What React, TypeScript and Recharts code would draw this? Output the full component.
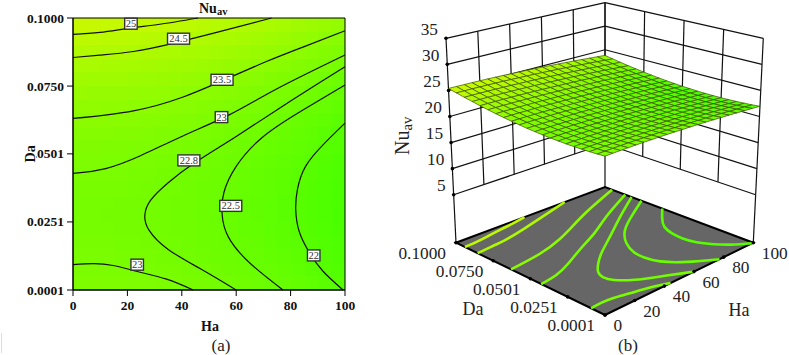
import { ComposedChart, Line, Scatter, XAxis, YAxis, ReferenceArea } from "recharts";

const SERIF = "'Liberation Serif', serif";

const HA_TICKS = [0, 20, 40, 60, 80, 100];
const DA_TICKS = [0.0001, 0.0251, 0.0501, 0.075, 0.1];
const NU_TICKS = [5, 10, 15, 20, 25, 30, 35];

// surface grid (a)
const HA_GRID = [0, 5, 10, 15, 20, 25, 30, 35, 40, 45, 50, 55, 60, 65, 70, 75, 80, 85, 90, 95, 100];
const DA_GRID = [
  0.0001, 0.0051, 0.0101, 0.0151, 0.0201, 0.0251, 0.0301, 0.0351, 0.0401, 0.0451, 0.0501,
  0.055, 0.06, 0.065, 0.07, 0.075, 0.08, 0.085, 0.09, 0.095, 0.1,
];
const NU_GRID = [
  [23.18, 23.19, 23.19, 23.18, 23.17, 23.15, 23.12, 23.08, 23.04, 22.99, 22.93, 22.87, 22.8, 22.72, 22.63, 22.54, 22.44, 22.33, 22.21, 22.09, 21.96],
  [23.07, 23.08, 23.08, 23.07, 23.06, 23.03, 23.0, 22.96, 22.92, 22.87, 22.81, 22.75, 22.67, 22.6, 22.51, 22.42, 22.32, 22.2, 22.08, 21.96, 21.83],
  [22.99, 23.0, 23.0, 22.98, 22.97, 22.95, 22.92, 22.88, 22.84, 22.78, 22.72, 22.66, 22.58, 22.51, 22.41, 22.32, 22.22, 22.11, 21.99, 21.87, 21.73],
  [22.93, 22.94, 22.93, 22.92, 22.91, 22.89, 22.85, 22.81, 22.77, 22.72, 22.65, 22.59, 22.51, 22.43, 22.34, 22.25, 22.15, 22.03, 21.91, 21.79, 21.66],
  [22.89, 22.9, 22.89, 22.88, 22.87, 22.84, 22.81, 22.76, 22.72, 22.67, 22.6, 22.54, 22.46, 22.38, 22.29, 22.2, 22.09, 21.98, 21.85, 21.73, 21.6],
  [22.87, 22.88, 22.87, 22.86, 22.84, 22.82, 22.78, 22.74, 22.69, 22.64, 22.57, 22.51, 22.43, 22.35, 22.26, 22.16, 22.06, 21.94, 21.82, 21.69, 21.56],
  [22.88, 22.88, 22.88, 22.86, 22.85, 22.82, 22.79, 22.74, 22.7, 22.64, 22.58, 22.51, 22.43, 22.35, 22.25, 22.16, 22.05, 21.94, 21.81, 21.69, 21.55],
  [22.91, 22.91, 22.91, 22.89, 22.87, 22.85, 22.81, 22.77, 22.72, 22.66, 22.6, 22.53, 22.45, 22.37, 22.27, 22.17, 22.07, 21.95, 21.82, 21.7, 21.56],
  [22.96, 22.96, 22.96, 22.94, 22.92, 22.89, 22.86, 22.81, 22.76, 22.7, 22.64, 22.57, 22.49, 22.41, 22.31, 22.21, 22.1, 21.99, 21.86, 21.73, 21.59],
  [23.04, 23.04, 23.03, 23.02, 23.0, 22.97, 22.93, 22.88, 22.83, 22.78, 22.71, 22.64, 22.56, 22.47, 22.37, 22.28, 22.17, 22.05, 21.92, 21.79, 21.66],
  [23.13, 23.13, 23.12, 23.1, 23.08, 23.05, 23.02, 22.97, 22.92, 22.86, 22.79, 22.72, 22.64, 22.55, 22.45, 22.35, 22.24, 22.12, 22.0, 21.87, 21.73],
  [23.26, 23.26, 23.25, 23.23, 23.21, 23.18, 23.14, 23.09, 23.04, 22.98, 22.91, 22.84, 22.75, 22.67, 22.57, 22.47, 22.36, 22.24, 22.11, 21.98, 21.84],
  [23.4, 23.4, 23.39, 23.37, 23.35, 23.31, 23.27, 23.22, 23.17, 23.11, 23.04, 22.97, 22.88, 22.8, 22.7, 22.59, 22.48, 22.36, 22.23, 22.1, 21.96],
  [23.57, 23.57, 23.56, 23.53, 23.51, 23.48, 23.44, 23.39, 23.33, 23.27, 23.2, 23.13, 23.04, 22.96, 22.85, 22.75, 22.64, 22.52, 22.39, 22.25, 22.11],
  [23.76, 23.76, 23.74, 23.72, 23.7, 23.67, 23.62, 23.57, 23.52, 23.45, 23.38, 23.31, 23.22, 23.13, 23.03, 22.93, 22.81, 22.69, 22.56, 22.43, 22.28],
  [23.97, 23.97, 23.95, 23.93, 23.91, 23.87, 23.83, 23.77, 23.72, 23.66, 23.58, 23.51, 23.42, 23.33, 23.23, 23.12, 23.01, 22.89, 22.75, 22.62, 22.48],
  [24.21, 24.21, 24.19, 24.17, 24.14, 24.11, 24.06, 24.01, 23.95, 23.89, 23.81, 23.74, 23.65, 23.56, 23.45, 23.35, 23.24, 23.11, 22.98, 22.84, 22.7],
  [24.47, 24.46, 24.45, 24.42, 24.4, 24.36, 24.32, 24.26, 24.21, 24.14, 24.06, 23.99, 23.9, 23.81, 23.7, 23.6, 23.48, 23.36, 23.22, 23.08, 22.94],
  [24.75, 24.74, 24.73, 24.7, 24.67, 24.64, 24.59, 24.53, 24.48, 24.41, 24.34, 24.26, 24.17, 24.08, 23.97, 23.86, 23.75, 23.62, 23.48, 23.35, 23.2],
  [25.06, 25.05, 25.04, 25.01, 24.98, 24.94, 24.9, 24.84, 24.78, 24.71, 24.64, 24.56, 24.47, 24.37, 24.27, 24.16, 24.04, 23.91, 23.78, 23.64, 23.49],
  [25.38, 25.37, 25.35, 25.33, 25.3, 25.26, 25.21, 25.15, 25.09, 25.03, 24.95, 24.87, 24.78, 24.68, 24.57, 24.47, 24.35, 24.22, 24.08, 23.94, 23.79],
];

// contour lines as [Ha, Da]
const C25 = [[0, 0.094], [9.9, 0.0947], [20.9, 0.0963], [31.9, 0.0977], [46, 0.1]];
const C245 = [[0, 0.0855], [9.9, 0.0864], [22.2, 0.0877], [36.8, 0.0907], [52.8, 0.0947], [73, 0.1]];
const C235 = [[0, 0.0631], [22.2, 0.0659], [40.5, 0.071], [55, 0.077], [71.1, 0.084], [85, 0.0895], [100, 0.0953]];
const C23_TOP = [[0, 0.0429], [12, 0.0447], [25, 0.0495], [40, 0.0565], [57.6, 0.0645], [75, 0.074], [100, 0.0864]];
const C228 = [[100, 0.0821], [80, 0.0695], [60, 0.0565], [45, 0.047], [35, 0.0395], [28.5, 0.033], [26.4, 0.0275], [28, 0.022], [35, 0.015], [47, 0.0078], [60, 0.0001]];
const C225 = [[100, 0.0754], [85, 0.0665], [70, 0.0565], [60, 0.0455], [55.5, 0.036], [54.8, 0.0283], [57, 0.0198], [65, 0.01], [77.2, 0.0001]];
const C22 = [[100, 0.0614], [92, 0.0535], [85.5, 0.0455], [82.5, 0.037], [81.9, 0.0296], [83.2, 0.0215], [87, 0.0137], [92, 0.0069], [99.3, 0.0001]];
const C23_LOW = [[0, 0.0094], [7.5, 0.0098], [14.8, 0.0091], [23.6, 0.0069], [34.4, 0.0041], [44.2, 0.0001]];

const CONTOURS = [
  { level: 25, pts: C25 },
  { level: 24.5, pts: C245 },
  { level: 23.5, pts: C235 },
  { level: 23, pts: C23_TOP },
  { level: 22.8, pts: C228 },
  { level: 22.5, pts: C225 },
  { level: 22, pts: C22 },
  { level: 23, pts: C23_LOW },
];

const LABEL_TEXT = ["25", "24.5", "23.5", "23", "22.8", "22.5", "22", "23"];
const LABEL_HA = [21.3, 38.8, 54.8, 54.6, 42.6, 58, 88.5, 23.6];
const LABEL_DA = [0.0979, 0.0924, 0.0773, 0.0636, 0.0477, 0.031, 0.0128, 0.0094];

const nuColor = (nu: number) => {
  const t = (nu - 21.55) / 3.83;
  return `rgb(${Math.round(72 + t * 132)},${Math.round(255 - t * 6)},0)`;
};

// box of the 3D view: [x, y] of the corners on the page, floor at z=-4.2, lid at z=35
const FLOOR = { front: [605, 315], left: [456, 242.7], right: [753.3, 242.7], back: [605, 187] };
const LID = { front: [605, 87.6], left: [446, 38.3], right: [763.3, 38.3], back: [605, 2.7] };
const Z_FLOOR = -4.2;
const Z_LID = 35;

const bilinear = (q: any, a: number, d: number, i: number) =>
  q.front[i] * (1 - a) * (1 - d) + q.left[i] * (1 - a) * d + q.right[i] * a * (1 - d) + q.back[i] * a * d;

const project = (ha: number, da: number, nu: number) => {
  const a = ha / 100;
  const d = (da - 0.0001) / 0.0999;
  const t = (nu - Z_FLOOR) / (Z_LID - Z_FLOOR);
  return {
    x: bilinear(FLOOR, a, d, 0) + (bilinear(LID, a, d, 0) - bilinear(FLOOR, a, d, 0)) * t,
    y: bilinear(FLOOR, a, d, 1) + (bilinear(LID, a, d, 1) - bilinear(FLOOR, a, d, 1)) * t,
  };
};

// left panel data
const contourData = CONTOURS.map((c) => c.pts.map(([x, y]) => ({ x, y })));
const labelData = LABEL_TEXT.map((text, i) => ({ x: LABEL_HA[i], y: LABEL_DA[i], text }));

const heatCells: any[] = [];
const surfaceCells: any[] = [];
for (let j = DA_GRID.length - 2; j >= 0; j--) {
  for (let i = HA_GRID.length - 2; i >= 0; i--) {
    const nu = (NU_GRID[j][i] + NU_GRID[j][i + 1] + NU_GRID[j + 1][i] + NU_GRID[j + 1][i + 1]) / 4;
    const ha = (HA_GRID[i] + HA_GRID[i + 1]) / 2;
    const da = (DA_GRID[j] + DA_GRID[j + 1]) / 2;
    heatCells.push({ x: ha, y: da, fill: nuColor(nu) });
    surfaceCells.push({
      ...project(ha, da, nu),
      fill: nuColor(nu),
      poly: [
        project(HA_GRID[i], DA_GRID[j], NU_GRID[j][i]),
        project(HA_GRID[i + 1], DA_GRID[j], NU_GRID[j][i + 1]),
        project(HA_GRID[i + 1], DA_GRID[j + 1], NU_GRID[j + 1][i + 1]),
        project(HA_GRID[i], DA_GRID[j + 1], NU_GRID[j + 1][i]),
      ],
    });
  }
}

// right panel data
const DA_MAX = DA_TICKS[DA_TICKS.length - 1];
const DA_MIN = DA_TICKS[0];
const HA_MAX = HA_TICKS[HA_TICKS.length - 1];
const NU_LOW = NU_TICKS[0];

const wallLines = [
  ...HA_TICKS.map((h) => [project(h, DA_MAX, NU_LOW), project(h, DA_MAX, Z_LID)]),
  ...DA_TICKS.map((d) => [project(HA_MAX, d, NU_LOW), project(HA_MAX, d, Z_LID)]),
  ...NU_TICKS.map((z) => [project(0, DA_MAX, z), project(HA_MAX, DA_MAX, z)]),
  ...NU_TICKS.map((z) => [project(HA_MAX, DA_MAX, z), project(HA_MAX, DA_MIN, z)]),
  [project(0, DA_MAX, Z_FLOOR), project(0, DA_MAX, NU_LOW)],
  [project(HA_MAX, DA_MAX, Z_FLOOR), project(HA_MAX, DA_MAX, NU_LOW)],
  [project(HA_MAX, DA_MIN, Z_FLOOR), project(HA_MAX, DA_MIN, NU_LOW)],
];

const floorCorners = [
  project(0, DA_MIN, Z_FLOOR),
  project(HA_MAX, DA_MIN, Z_FLOOR),
  project(HA_MAX, DA_MAX, Z_FLOOR),
  project(0, DA_MAX, Z_FLOOR),
];
const floorData = [{ ...project(50, 0.05, Z_FLOOR), poly: floorCorners, fill: "#666666" }];
const floorContours = CONTOURS.map((c) => ({
  color: nuColor(c.level),
  pts: c.pts.map(([h, d]) => project(h, d, Z_FLOOR)),
}));

const tickPoints = [
  ...NU_TICKS.map((z) => ({ ...project(0, DA_MAX, z), text: String(z), anchor: "end", dx: -8, dy: -9 })),
  ...DA_TICKS.map((d) => ({ ...project(0, d, Z_FLOOR), text: d.toFixed(4), anchor: "end", dx: -10, dy: 10.5 })),
  ...HA_TICKS.map((h) => ({ ...project(h, DA_MIN, Z_FLOOR), text: String(h), anchor: "start", dx: 8.5, dy: 10.5 })),
];

const HeatCell = (props: any) => {
  const w = 13.6;
  return (
    <rect
      x={props.cx - w / 2}
      y={props.cy - w / 2}
      width={w + 0.4}
      height={w + 0.4}
      fill={props.payload.fill}
      shapeRendering="crispEdges"
    />
  );
};

const ContourLabel = (props: any) => {
  const { cx, cy, payload } = props;
  const w = payload.text.length > 2 ? 22 : 12.5;
  return (
    <g>
      <rect x={cx - w / 2} y={cy - 5.5} width={w} height={11} fill="#fff" stroke="#333" strokeWidth={1.4} />
      <text x={cx} y={cy + 3.5} textAnchor="middle" fontFamily={SERIF} fontSize={10.5} fill="#333">
        {payload.text}
      </text>
    </g>
  );
};

const Poly = (props: any) => {
  const { cx, cy, payload } = props;
  const pts = payload.poly.map((p: any) => `${cx + p.x - payload.x},${cy + p.y - payload.y}`).join(" ");
  return <polygon points={pts} fill={payload.fill} stroke={payload.stroke || "none"} strokeWidth={0.7} />;
};

const MeshCell = (props: any) => (
  <Poly {...props} payload={{ ...props.payload, stroke: "#3a5200" }} />
);

const TickPoint = (props: any) => {
  const { cx, cy, payload } = props;
  return (
    <g>
      <circle cx={cx} cy={cy} r={1.8} fill="#000" />
      <text
        x={cx + payload.dx}
        y={cy + payload.dy + 5.5}
        textAnchor={payload.anchor}
        fontFamily={SERIF}
        fontSize={17.3}
        fill="#222"
      >
        {payload.text}
      </text>
    </g>
  );
};

// the "Da" title sits on a white box that hides the start of the 0.0501 tick
const DaTick = (props: any) => {
  const { x, y, payload } = props;
  const boldText = { fontFamily: SERIF, fontSize: 13.5, fontWeight: 700, fill: "#111" };
  return (
    <g>
      <text x={x} y={y + 4.5} textAnchor="end" {...boldText}>
        {payload.value.toFixed(4)}
      </text>
      {payload.value === 0.0501 && (
        <g>
          <rect x={20} y={y - 18} width={16} height={34} fill="#fff" />
          <text transform={`translate(34.5,${y}) rotate(-90)`} textAnchor="middle" {...boldText} fontSize={14}>
            Da
          </text>
        </g>
      )}
    </g>
  );
};

export default function App() {
  const tickStyle = { fontFamily: SERIF, fontSize: 13.5, fontWeight: 700, fill: "#111" };
  return (
    <div style={{ position: "fixed", left: 0, top: 0, width: 789, height: 355, background: "#fff" }}>
      <div style={{ position: "absolute", left: 1, top: 333, width: 1, height: 20, background: "#ddd" }} />
      <div style={{ position: "absolute", left: 0, top: 0 }}>
        <ComposedChart width={370} height={355} margin={{ top: 18, right: 25, bottom: 30, left: 0 }}>
          <XAxis
            type="number"
            dataKey="x"
            domain={[0, 100]}
            ticks={HA_TICKS}
            interval={0}
            height={35}
            tickSize={6}
            tickMargin={4}
            stroke="#000"
            tick={tickStyle}
          />
          <YAxis
            type="number"
            dataKey="y"
            domain={[0.0001, 0.1]}
            ticks={DA_TICKS}
            interval={0}
            width={73}
            tickSize={6}
            tickMargin={3}
            stroke="#000"
            tick={DaTick}
          />
          <Scatter data={heatCells} shape={HeatCell} isAnimationActive={false} zIndex={100} />
          <ReferenceArea x1={0} x2={100} y1={0.0001} y2={0.1} fill="none" stroke="#000" zIndex={350} />
          {contourData.map((pts, i) => (
            <Line
              key={i}
              data={pts}
              dataKey="y"
              type="natural"
              stroke="#111"
              strokeWidth={1.2}
              dot={false}
              activeDot={false}
              isAnimationActive={false}
              zIndex={400}
            />
          ))}
          <Scatter data={labelData} shape={ContourLabel} isAnimationActive={false} zIndex={600} />
          <text x={199} y={13} fontFamily={SERIF} fontSize={14} fontWeight={700} fill="#111">
            Nu
            <tspan fontSize={10.5} dy={2}>
              av
            </tspan>
          </text>
          <text x={210} y={331} textAnchor="middle" fontFamily={SERIF} fontSize={14} fontWeight={700} fill="#111">
            Ha
          </text>
          <text x={221} y={351} textAnchor="middle" fontFamily={SERIF} fontSize={17} fill="#222">
            (a)
          </text>
        </ComposedChart>
      </div>
      <div style={{ position: "absolute", left: 370, top: 0 }}>
        <ComposedChart width={419} height={355} margin={{ top: 0, right: 0, bottom: 0, left: 0 }}>
          <XAxis type="number" dataKey="x" domain={[370, 789]} hide />
          <YAxis type="number" dataKey="y" domain={[0, 355]} reversed hide />
          {wallLines.map((pts, i) => (
            <Line
              key={i}
              data={pts}
              dataKey="y"
              type="linear"
              stroke="#111"
              strokeWidth={1.2}
              dot={false}
              activeDot={false}
              isAnimationActive={false}
              zIndex={100}
            />
          ))}
          <Scatter data={floorData} shape={Poly} isAnimationActive={false} zIndex={200} />
          <Line
            data={[...floorCorners, floorCorners[0]]}
            dataKey="y"
            type="linear"
            stroke="#000"
            strokeWidth={2}
            dot={false}
            activeDot={false}
            isAnimationActive={false}
            zIndex={250}
          />
          {floorContours.map((c, i) => (
            <Line
              key={i}
              data={c.pts}
              dataKey="y"
              type="natural"
              stroke={c.color}
              strokeWidth={2.6}
              dot={false}
              activeDot={false}
              isAnimationActive={false}
              zIndex={300}
            />
          ))}
          <Scatter data={surfaceCells} shape={MeshCell} isAnimationActive={false} zIndex={400} />
          <Scatter data={tickPoints} shape={TickPoint} isAnimationActive={false} zIndex={600} />
          <text transform="translate(39,155) rotate(-90)" fontFamily={SERIF} fontSize={20} fill="#222">
            Nu
            <tspan fontSize={15} dy={3}>
              av
            </tspan>
          </text>
          <text x={103} y={315} textAnchor="middle" fontFamily={SERIF} fontSize={18} fill="#222">
            Da
          </text>
          <text x={369} y={316} textAnchor="middle" fontFamily={SERIF} fontSize={18} fill="#222">
            Ha
          </text>
          <text x={258} y={351} textAnchor="middle" fontFamily={SERIF} fontSize={17} fill="#222">
            (b)
          </text>
        </ComposedChart>
      </div>
    </div>
  );
}
